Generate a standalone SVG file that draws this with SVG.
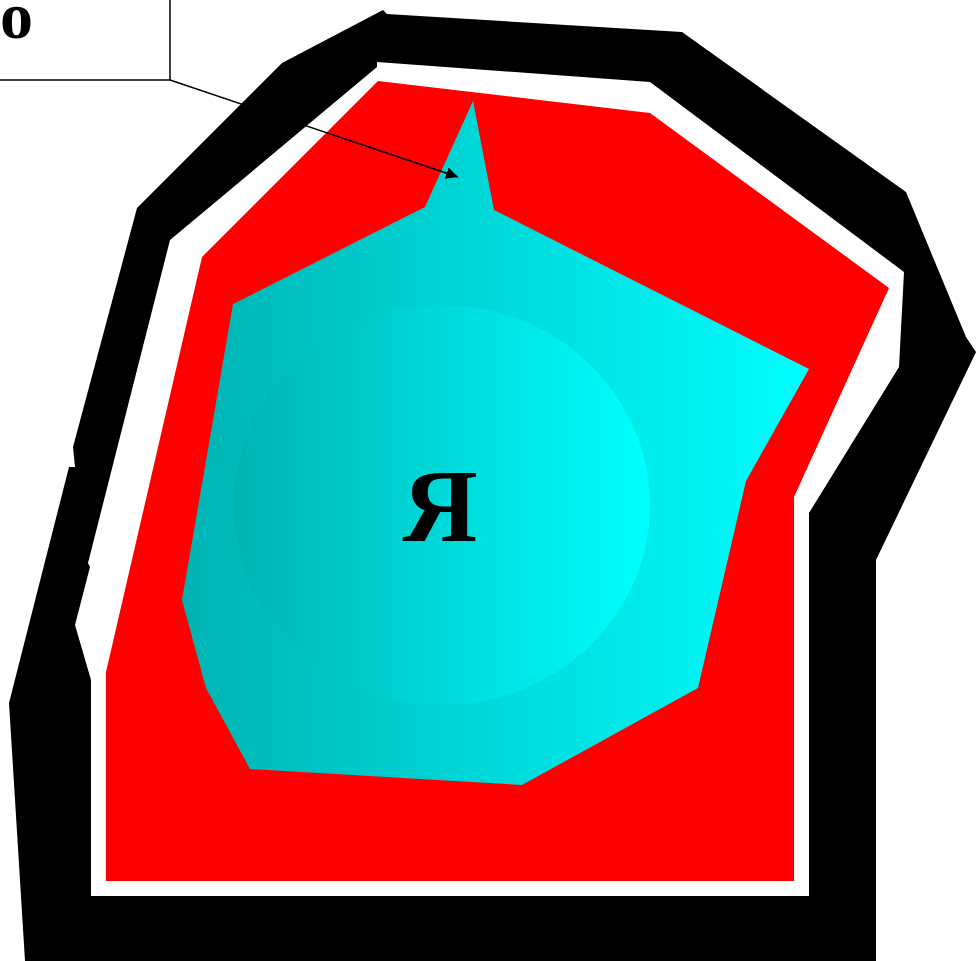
<svg xmlns="http://www.w3.org/2000/svg" width="976" height="961" viewBox="0 0 976 961">
<style>
.lbl{font-family:"Liberation Serif","Times New Roman",serif;font-weight:bold;fill:#000}
.conn{stroke:#000;stroke-width:1.5;fill:none}
</style>
<defs>
<linearGradient id="gPoly" gradientUnits="userSpaceOnUse" x1="182" y1="0" x2="809" y2="0">
<stop offset="0" stop-color="#00b3b3"/><stop offset="1" stop-color="#00ffff"/>
</linearGradient>
<linearGradient id="gEll" gradientUnits="userSpaceOnUse" x1="234" y1="0" x2="650" y2="0">
<stop offset="0" stop-color="#00b3b3"/><stop offset="1" stop-color="#00ffff"/>
</linearGradient>
<marker id="arr" viewBox="0 0 10 10" refX="10" refY="5" markerWidth="8" markerHeight="8" markerUnits="strokeWidth" orient="auto">
<path d="M0,0 L10,5 L0,10 z" fill="#000"/>
</marker>
</defs>
<g id="outer-ring">
<path fill="#000" fill-rule="evenodd" d="M383,10 L387,14 L682,32 L906,192 L966,337 L976,352 L876,560 L876,961 L25,961 L9,703 L69,467 L75,467 L73,447 L137,208 L282,63 Z M377,62 L377,67 L170,240 L88,563 L90,567 L75,625 L91,680 L91,896 L809,896 L809,513 L899,367 L904,272 L650,82 Z"/>
</g>
<g id="red-zone">
<polygon fill="#ff0000" points="378,81 650,113 889,288 794,497 794,881 106,881 106,672 202,257"/>
</g>
<g id="cyan-node">
<polygon fill="url(#gPoly)" points="473,101 494,210 809,369 746,481 698,688 522,785 250,769 206,688 182,600 233,304 425,207"/>
<ellipse cx="442" cy="505" rx="208" ry="200" fill="url(#gEll)"/>
<text class="lbl" x="440" y="541" font-size="104" text-anchor="middle">Я</text>
</g>
<g id="label-box">
<rect x="-10" y="-10" width="180" height="90" fill="none" stroke="#000" stroke-width="1.5"/>
<text class="lbl" x="0" y="38" font-size="66">o</text>
</g>
<g id="connectors">
<line class="conn" x1="170" y1="80" x2="458" y2="177" marker-end="url(#arr)"/>
</g>
</svg>
